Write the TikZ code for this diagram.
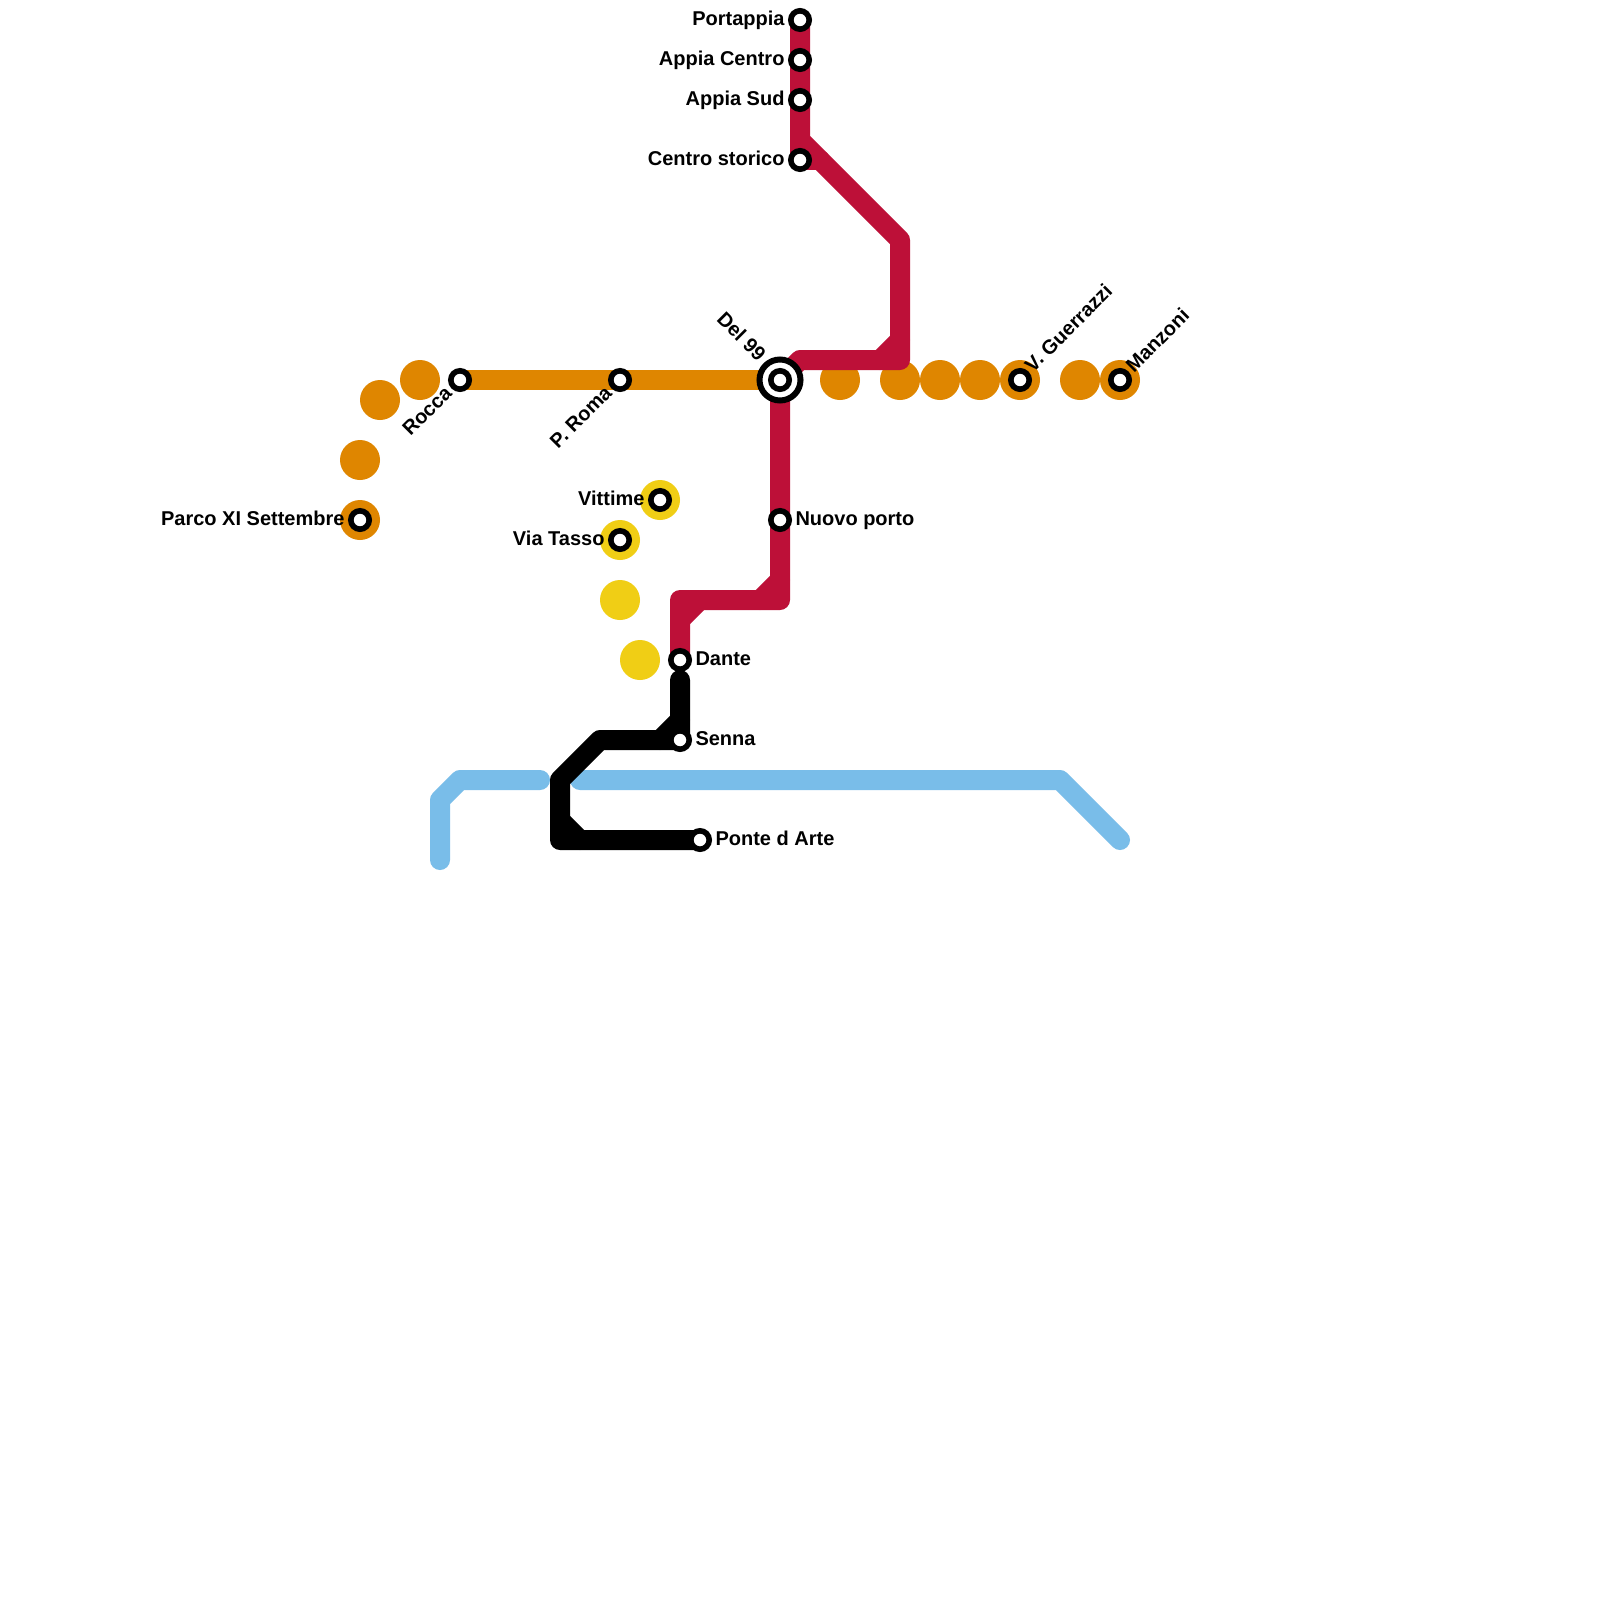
\documentclass[tikz,border=0pt]{standalone}
\usepackage{fontspec}
\setmainfont{Liberation Sans}
\usetikzlibrary{calc}
\definecolor{cred}{HTML}{BD1038}
\definecolor{corange}{HTML}{DF8600}
\definecolor{cyellow}{HTML}{F0CE15}
\definecolor{cblue}{HTML}{79BDE9}
\tikzset{
  metro/.style={line width=20pt,line join=round,line cap=round},
  orangedot/.style={circle,fill=corange,minimum size=40pt,inner sep=0pt,outer sep=0pt},
  yellowdot/.style={circle,fill=cyellow,minimum size=40pt,inner sep=0pt,outer sep=0pt},
  stop/.style={circle,draw=black,fill=white,line width=5.6pt,minimum size=18.4pt,inner sep=0pt,outer sep=0pt},
  bigstop/.style={circle,draw=black,fill=white,line width=6pt,minimum size=41pt,inner sep=0pt,outer sep=0pt},
  lab/.style={inner sep=0pt,outer sep=0pt,font=\fontsize{20}{22}\selectfont\bfseries,text=black}
}
\begin{document}
\begin{tikzpicture}[x=1pt,y=-1pt]
\useasboundingbox[fill=white] (0,0) rectangle (1600,1600);
% orange dots
\foreach \n/\p in {oa/{360,520},ob/{360,460},oc/{380,400},od/{420,380},oe/{840,380},of/{900,380},og/{940,380},oh/{980,380},oi/{1020,380},oj/{1080,380},ok/{1120,380}}
  \node[orangedot] (\n) at (\p) {};
% yellow dots
\foreach \n/\p in {ya/{660,500},yb/{620,540},yc/{620,600},yd/{640,660}}
  \node[yellowdot] (\n) at (\p) {};
% stations' positions and bends
\coordinate (Rocca) at (460,380);
\coordinate (Roma) at (620,380);
\coordinate (Del) at (780,380);
\coordinate (Parco) at (360,520);
\coordinate (Vitt) at (660,500);
\coordinate (Tasso) at (620,540);
\coordinate (Porto) at (780,520);
\coordinate (Dante) at (680,660);
\coordinate (Senna) at (680,740);
\coordinate (Ponte) at (700,840);
\coordinate (Guerr) at (1020,380);
\coordinate (Manz) at (1120,380);
\coordinate (Port) at (800,20);
\coordinate (ACen) at (800,60);
\coordinate (ASud) at (800,100);
\coordinate (CSto) at (800,160);
% orange line
\draw[metro,corange,line cap=butt] (Rocca) -- (Del);
% blue line
\coordinate (b1) at (440,860); \coordinate (b2) at (440,800); \coordinate (b3) at (460,780); \coordinate (b4) at (540,780);
\coordinate (b5) at (580,780); \coordinate (b6) at (1060,780); \coordinate (b7) at (1120,840);
\draw[metro,cblue] (b1) -- (b2) -- (b3) -- (b4);
\draw[metro,cblue] (b5) -- (b6) -- (b7);
% black line
\coordinate (k1) at (680,680); \coordinate (k2) at (600,740); \coordinate (k3) at (560,780); \coordinate (k4) at (560,840);
\coordinate (k5) at (660,740); \coordinate (k6) at (680,720); \coordinate (k7) at (560,820); \coordinate (k8) at (580,840);
\draw[metro,black] (k1) -- (Senna) -- (k2) -- (k3) -- (k4) -- (Ponte);
\draw[metro,black] (k5) -- (k6);
\draw[metro,black] (k7) -- (k8);
% red line
\coordinate (r1) at (800,140); \coordinate (r2) at (900,240); \coordinate (r3) at (900,360); \coordinate (r4) at (800,360);
\coordinate (r5) at (780,600); \coordinate (r6) at (680,600);
\coordinate (r7) at (820,160); \coordinate (r8) at (880,360); \coordinate (r9) at (900,340);
\coordinate (r10) at (760,600); \coordinate (r11) at (780,580); \coordinate (r12) at (680,620); \coordinate (r13) at (700,600);
\draw[metro,cred] (Port) -- (r1) -- (r2) -- (r3) -- (r4) -- (Del) -- (r5) -- (r6) -- (Dante);
\draw[metro,cred] (r1) -- (CSto) -- (r7);
\draw[metro,cred] (r8) -- (r9);
\draw[metro,cred] (r10) -- (r11);
\draw[metro,cred] (r12) -- (r13);
% stations
\node[bigstop] (DelRing) at (Del) {};
\foreach \n/\p in {sRocca/Rocca,sRoma/Roma,sDel/Del,sParco/Parco,sVitt/Vitt,sTasso/Tasso,sPorto/Porto,sDante/Dante,sSenna/Senna,sPonte/Ponte,sGuerr/Guerr,sManz/Manz,sPort/Port,sACen/ACen,sASud/ASud,sCSto/CSto}
  \node[stop] (\n) at (\p) {};
% labels
\node[lab,anchor=base east] (lPort) at ($(Port)+(-15.5,5.5)$) {Portappia};
\node[lab,anchor=base east] (lACen) at ($(ACen)+(-15.5,5.5)$) {Appia Centro};
\node[lab,anchor=base east] (lASud) at ($(ASud)+(-15.5,5.5)$) {Appia Sud};
\node[lab,anchor=base east] (lCSto) at ($(CSto)+(-15.5,5.5)$) {Centro storico};
\node[lab,anchor=base east] (lParco) at ($(Parco)+(-15.5,5.5)$) {Parco XI Settembre};
\node[lab,anchor=base east] (lVitt) at ($(Vitt)+(-15.5,5.5)$) {Vittime};
\node[lab,anchor=base east] (lTasso) at ($(Tasso)+(-15.5,5.5)$) {Via Tasso};
\node[lab,anchor=base west] (lPorto) at ($(Porto)+(15.5,5.5)$) {Nuovo porto};
\node[lab,anchor=base west] (lDante) at ($(Dante)+(15.5,5.5)$) {Dante};
\node[lab,anchor=base west] (lSenna) at ($(Senna)+(15.5,5.5)$) {Senna};
\node[lab,anchor=base west] (lPonte) at ($(Ponte)+(15.5,5.5)$) {Ponte d Arte};
\node[lab,anchor=base east,rotate=45] (lRocca) at ($(Rocca)+(-7,14.5)$) {Rocca};
\node[lab,anchor=base east,rotate=45] (lRoma) at ($(Roma)+(-7,14.5)$) {P. Roma};
\node[lab,anchor=base east,rotate=-45] (lDel) at ($(Del)+(-22.5,-18)$) {Del 99};
\node[lab,anchor=base west,rotate=45] (lGuerr) at ($(Guerr)+(13,-7)$) {V. Guerrazzi};
\node[lab,anchor=base west,rotate=45] (lManz) at ($(Manz)+(14,-6.5)$) {Manzoni};
\end{tikzpicture}
\end{document}
